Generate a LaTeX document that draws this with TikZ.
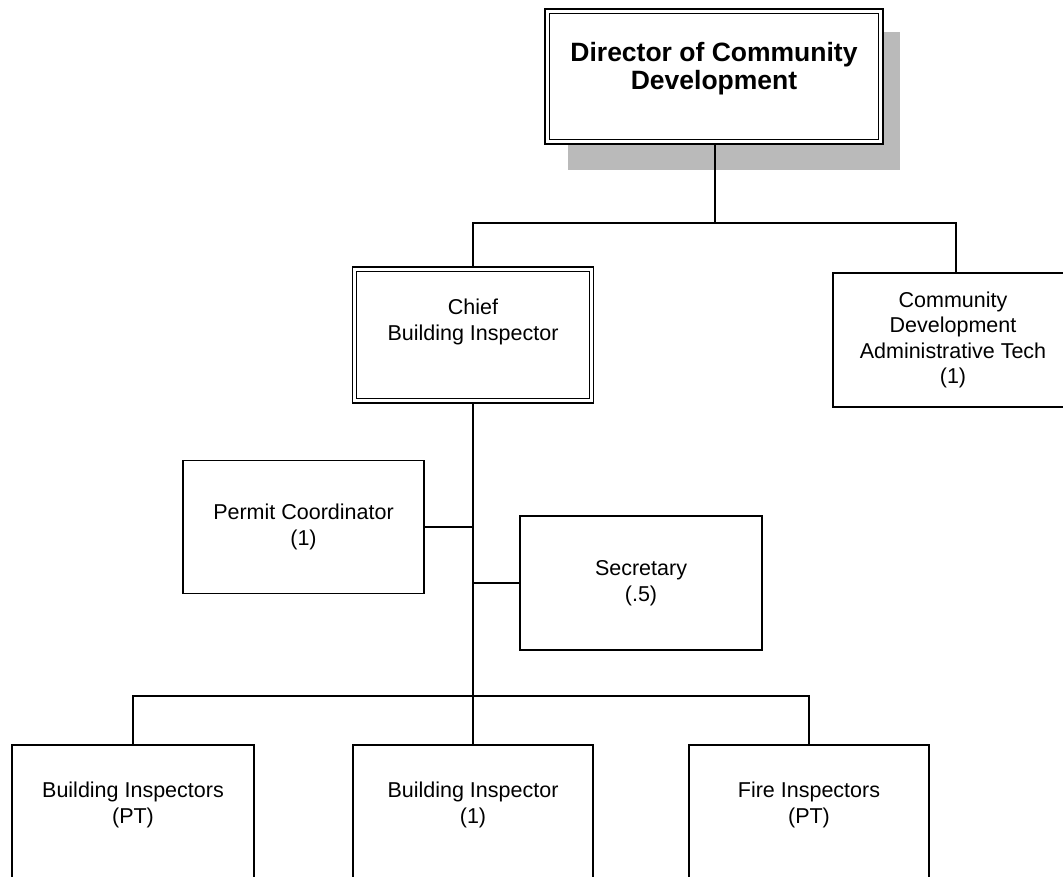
\documentclass[tikz,border=0pt]{standalone}
\usepackage{fontspec}
\setmainfont{Liberation Sans}
\begin{document}
\begin{tikzpicture}[x=1pt,y=-1pt,
  box/.style={draw=black,line width=1.7pt,fill=white,rectangle,inner sep=0pt,align=center,
    font=\fontsize{21.5}{25.5}\selectfont},
  dirtxt/.style={align=center,inner sep=0pt,font=\fontsize{26.5}{28}\selectfont\bfseries},
  lbl/.style={align=center,inner sep=0pt,font=\fontsize{21.5}{26}\selectfont},
  conn/.style={draw=black,line width=1.8pt},
  inner/.style={draw=black,line width=0.9pt},
  shadowfill/.style={fill=black!27}]
\useasboundingbox (0,0) rectangle (1063,876);
\clip (0,0) rectangle (1063,876);
% director
\fill[shadowfill] (568,32) rectangle (900,170);
\node[box,minimum width=338pt,minimum height=135pt] (dir) at (714,76.5) {};
\draw[inner] ([shift={(5pt,-5pt)}]dir.north west) rectangle ([shift={(-5pt,5pt)}]dir.south east);
\node[dirtxt] (dirt) at (714,69) {Director of Community\\Development};
% chief
\node[box,minimum width=241pt,minimum height=136pt] (chief) at (473,335) {};
\draw[inner] ([shift={(5pt,-5pt)}]chief.north west) rectangle ([shift={(-5pt,5pt)}]chief.south east);
\node[lbl] (chieft) at (473,322) {Chief\\Building Inspector};
% community dev tech
\node[box,minimum width=240pt,minimum height=134pt] (cdt) at (953,340) {Community\\Development\\Administrative Tech\\(1)};
% permit
\node[box,minimum width=241pt,minimum height=133pt] (perm) at (303.5,527) {Permit Coordinator\\(1)};
% secretary
\node[box,minimum width=242pt,minimum height=134pt] (sec) at (641,583) {Secretary\\(.5)};
% bottom row
\node[box,minimum width=242pt,minimum height=200pt,anchor=north] (bip) at (133,744) {};
\node[lbl] (bipt) at (133,805) {Building Inspectors\\(PT)};
\node[box,minimum width=240pt,minimum height=200pt,anchor=north] (bi) at (473,744) {};
\node[lbl] (bit) at (473,805) {Building Inspector\\(1)};
\node[box,minimum width=240pt,minimum height=200pt,anchor=north] (fi) at (809,744) {};
\node[lbl] (fit) at (809,805) {Fire Inspectors\\(PT)};
% connectors
\coordinate (j1) at (715,223);
\coordinate (j2) at (473,696);
\draw[conn] (dir.south -| j1) -- (j1);
\draw[conn] (chief.north) |- (j1) -| (cdt.north -| 956,0);
\draw[conn] (chief.south) -- (j2);
\draw[conn] (perm.east) -- (perm.east -| chief.south);
\draw[conn] (sec.west) -- (sec.west -| chief.south);
\draw[conn] (bip.north) |- (j2) -| (fi.north);
\draw[conn] (bi.north) -- (j2);
\end{tikzpicture}
\end{document}
